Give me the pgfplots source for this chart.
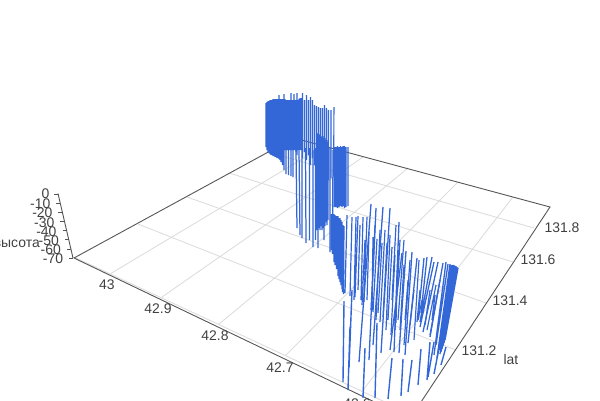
\documentclass[border=0pt]{standalone}
\usepackage{pgfplots}
\pgfplotsset{compat=1.18}
\usepackage{fontspec}
\setmainfont{Liberation Sans}
\definecolor{bar}{HTML}{3366D6}
\definecolor{gridc}{HTML}{DDDDDD}
\definecolor{axisc}{HTML}{555555}
\definecolor{txt}{HTML}{404040}
\begin{document}
\begin{tikzpicture}[x=1bp,y=1bp,lab/.style={font=\fontsize{14}{14}\selectfont,text=txt,inner sep=0pt}]
\useasboundingbox (0,0) rectangle (600,400);
\clip (0,0) rectangle (600,400);
\begin{axis}[at={(0,0)},anchor=south west,scale only axis,width=600bp,height=400bp,
  xmin=0,xmax=600,ymin=0,ymax=400,y dir=reverse,axis lines=none,clip=true,
  unbounded coords=jump]
% grid
\addplot[gridc,line width=0.9pt] coordinates {
(268,152)(534,228)

(229,173)(513,262)

(187,197)(486,303)

(138,224)(456,350)

(76,258)(430,423)

(110,274)(324,146)

(162,297)(363,157)

(219,324)(408,168)

(286,355)(458,182)

(363,390)(513,197)
};
% box
\addplot[axisc,line width=0.9pt] coordinates {
(74,258)(294,138)(550,207)(423,399)(410,419)

(74,258)(410,419)

(73,258)(58,193.5)
};
% z ticks
\addplot[axisc,line width=0.7pt] coordinates {
(58,194)(54,194)

(60.1,203.1)(56.1,203.1)

(62.3,212.3)(58.3,212.3)

(64.4,221.4)(60.4,221.4)

(66.6,230.6)(62.6,230.6)

(68.7,239.7)(64.7,239.7)

(70.9,248.9)(66.9,248.9)

(73,258)(69,258)
};
% block
\addplot[bar,line width=1.1pt] coordinates {
(266,103)(266,147)

(267,102)(267,150)

(268,101)(268,152)

(269,101)(269,153)

(270,100)(270,154)

(271,100)(271,155)

(272,100)(272,155)

(273,99)(273,156)

(274,99)(274,156)

(275,99)(275,157)

(276,99)(276,157)

(277,99)(277,158)

(278,99)(278,158)

(279,95)(279,159)

(280,99)(280,160)

(281,99)(281,162)

(282.5,99)(282.5,165)

(284,94)(284,170)

(286,100)(286,174)

(288.5,100)(288.5,175)

(291,93)(291,176)

(293,100)(293,177)

(285,99)(285,150)

(287,100)(287,150)

(290,100)(290,150)

(292,100)(292,150)

(294,94)(294,150)

(295,100)(295,150)

(296,100)(296,152)

(297,93)(297,155)

(298,100)(298,150)

(299,99)(299,150)

(300,98)(300,150)

(301,98)(301,150)

(302.5,93)(302.5,158)

(304.5,100)(304.5,152)

(306.5,95)(306.5,160)

(308.5,100)(308.5,155)

(310.5,97)(310.5,165)

(312.5,100)(312.5,158)

(314.5,105)(314.5,165)

(316.5,106)(316.5,168)

(318.5,107)(318.5,170)

(320.5,108)(320.5,172)

(322.5,108)(322.5,175)

(324.5,105)(324.5,175)

(326.5,108)(326.5,178)

(328.5,110)(328.5,180)

(331,110)(331,178)

(334,107)(333.5,175)
};
% second bunch
\addplot[bar,line width=1.25pt] coordinates {
(296,150)(297,228)

(299,150)(300,235)

(302,148)(302,238)

(305.5,148)(306,243)

(309.5,148)(309.5,240)

(313,150)(313,247)

(315.5,148)(315.5,240)

(317,134)(317,230)

(318,133)(318,248)

(319,134)(319,228)

(320,135)(320,230)

(321,136)(321,226)

(322,137)(322,230)

(323,138)(323,228)

(324,136)(324,240)

(325,138)(325,226)

(326,140)(326,222)

(327,140)(327,225)

(328,142)(328,220)

(330,148)(330,252)

(333,150)(332.5,253)

(334.5,147)(334.5,207)

(336,147)(336,207)

(337.5,146)(337.5,208)

(339,147)(339,207)

(340.5,146)(340.5,206)

(342,147)(342,207)

(343,146)(343,206)

(344.5,146)(344.5,208)

(346,147)(346,207)

(348,147)(348,206)
};
% diagonal dense part
\addplot[bar,line width=1.2pt] coordinates {
(331,214)(331,250)

(332.5,214)(332.5,254)

(334,214)(334,262)

(335,215)(335,265)

(336.5,216)(336.5,269)

(338,216)(338,276)

(339,218)(339,279)

(340,218)(340,282)

(341,220)(341,285)

(342,222)(342,289)

(343,225)(342.5,292)

(344,226)(343.5,294)

(347,215)(345,293)

(352,217)(350,296)

(356,217)(354,300)

(358,216)(355,297)

(360,225)(358,290)

(363,217)(361,300)

(365,240)(362,305)

(367,217)(364,302)

(369,232)(367,300)

(373,237)(372,310)

(375,225)(371,310)

(377,239)(373,312)

(380,230)(376,320)

(382,243)(378,313)

(385,230)(380,322)

(387,243)(383,317)

(390,235)(386,330)

(392,247)(388,320)

(394,270)(392,300)

(395,255)(391,335)

(396,225)(392,300)

(398,250)(396,323)

(400,240)(395,330)

(404,240)(398,320)

(404,265)(400,330)

(408,280)(405,320)

(410,260)(404,345)

(414,290)(410,325)

(419,260)(414,340)

(420,290)(417,322)

(422,300)(418,320)

(430,290)(425,325)

(436,285)(427,330)

(435,295)(432,320)

(440,280)(430,335)
};
% tall
\addplot[bar,line width=1.3pt] coordinates {
(371,204)(359,362)

(376,208)(369,360)

(383,207)(373,345)

(390,208)(381,353)

(399,222)(394,352)

(402,253)(390,350)

(406,251)(399,353)

(412,252)(405,355)

(417,258)(408,343)

(424,258)(418,320)

(427,257)(421,313)

(432,257)(420,322)

(434,262)(420,327)

(438,262)(423,332)

(443,263)(430,337)

(446,262)(434,355)

(448,264)(436,345)

(450,264)(437,358)

(451.5,265)(439,350)

(453,265)(440,354)

(454,265)(441,352)

(455,266)(442,349)

(456,266)(443,346)

(457,267)(444,343)

(458,268)(445,340)
};
% lower fragments
\addplot[bar,line width=1.4pt] coordinates {
(344,301)(343,382)

(350,327)(348,390)

(352,290)(349,368)

(365,348)(363,398)

(377,323)(375,398)

(392,358)(388,399)

(403,359)(401,396)

(412,360)(408,392)

(421,349)(418,385)

(430,342)(427,380)

(434,342)(428,377)

(440,343)(434,374)

(446,347)(441,365)
};
\node[lab,anchor=center] at (axis cs:107,285) {43};
\node[lab,anchor=center] at (axis cs:158,309) {42.9};
\node[lab,anchor=center] at (axis cs:215,336) {42.8};
\node[lab,anchor=center] at (axis cs:280,368) {42.7};
\node[lab,anchor=center] at (axis cs:357,404) {42.6};
\node[lab,anchor=center] at (axis cs:562,228) {131.8};
\node[lab,anchor=center] at (axis cs:538,260) {131.6};
\node[lab,anchor=center] at (axis cs:510,301) {131.4};
\node[lab,anchor=center] at (axis cs:479,351) {131.2};
\node[lab,anchor=center] at (axis cs:511,360) {lat};
\node[lab,anchor=east] at (axis cs:49.5,194) {0};
\node[lab,anchor=east] at (axis cs:50.5,203.5) {-10};
\node[lab,anchor=east] at (axis cs:52.7,213) {-20};
\node[lab,anchor=east] at (axis cs:54.5,222.5) {-30};
\node[lab,anchor=east] at (axis cs:56.7,231.7) {-40};
\node[lab,anchor=east] at (axis cs:59,240.5) {-50};
\node[lab,anchor=east] at (axis cs:61,249.5) {-60};
\node[lab,anchor=east] at (axis cs:63.3,258.5) {-70};
\node[lab,anchor=east] at (axis cs:40,244) {высота};
\end{axis}
\end{tikzpicture}
\end{document}
